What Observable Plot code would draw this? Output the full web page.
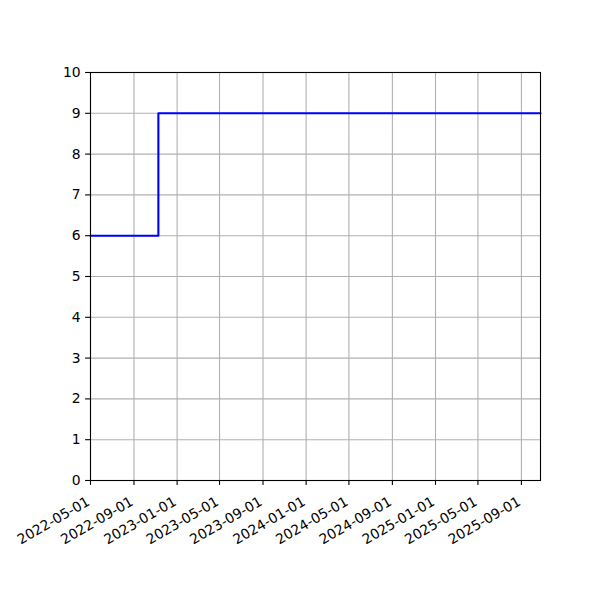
<!DOCTYPE html>
<html>
<head>
<meta charset="utf-8">
<script src="https://cdn.jsdelivr.net/npm/d3@7"></script>
<script src="https://cdn.jsdelivr.net/npm/@observablehq/plot@0.6"></script>
<style>
  html, body { margin: 0; padding: 0; background: #fff; }
  svg { display: block; }
</style>
</head>
<body>
<div id="chart"></div>
<script>
const dates = ["2022-05-01", "2022-11-09", "2025-10-25"];
const values = [6, 9, 9];
const xTickLabels = ["2022-05-01","2022-09-01","2023-01-01","2023-05-01","2023-09-01","2024-01-01","2024-05-01","2024-09-01","2025-01-01","2025-05-01","2025-09-01"];
const yTicks = [0,1,2,3,4,5,6,7,8,9,10];

const parse = d3.utcParse("%Y-%m-%d");
const data = dates.map((d, i) => ({date: parse(d), value: values[i]}));
const xTicks = xTickLabels.map(parse);
const fmt = d3.utcFormat("%Y-%m-%d");

const chart = Plot.plot({
  width: 600,
  height: 600,
  marginLeft: 90,
  marginRight: 60,
  marginTop: 72,
  marginBottom: 120,
  style: {fontFamily: "DejaVu Sans", fontSize: "13.9px", color: "black", background: "white"},
  x: {type: "utc", domain: [parse(dates[0]), parse(dates[dates.length - 1])]},
  y: {domain: [0, 10]},
  marks: [
    Plot.gridX(xTicks, {stroke: "#b0b0b0", strokeOpacity: 1, strokeWidth: 1.1}),
    Plot.gridY(yTicks, {stroke: "#b0b0b0", strokeOpacity: 1, strokeWidth: 1.1}),
    Plot.line(data, {x: "date", y: "value", curve: "step-after", stroke: "#0000ff", strokeWidth: 2.1}),
    Plot.frame({stroke: "black", strokeWidth: 1.1}),
    Plot.axisY({ticks: yTicks, tickSize: 4.9, tickPadding: 4.9, label: null, strokeWidth: 1.1, fontSize: 13.9}),
    Plot.axisX({ticks: xTicks, tickSize: 4.9, tickFormat: () => "", label: null, strokeWidth: 1.1}),
    Plot.text(xTicks, {x: d => d, frameAnchor: "bottom", dx: -2, dy: 20, text: d => fmt(d), rotate: -30, textAnchor: "end", lineAnchor: "middle", fontSize: 13.9, fill: "black"})
  ]
});
document.getElementById("chart").appendChild(chart);
</script>
</body>
</html>
